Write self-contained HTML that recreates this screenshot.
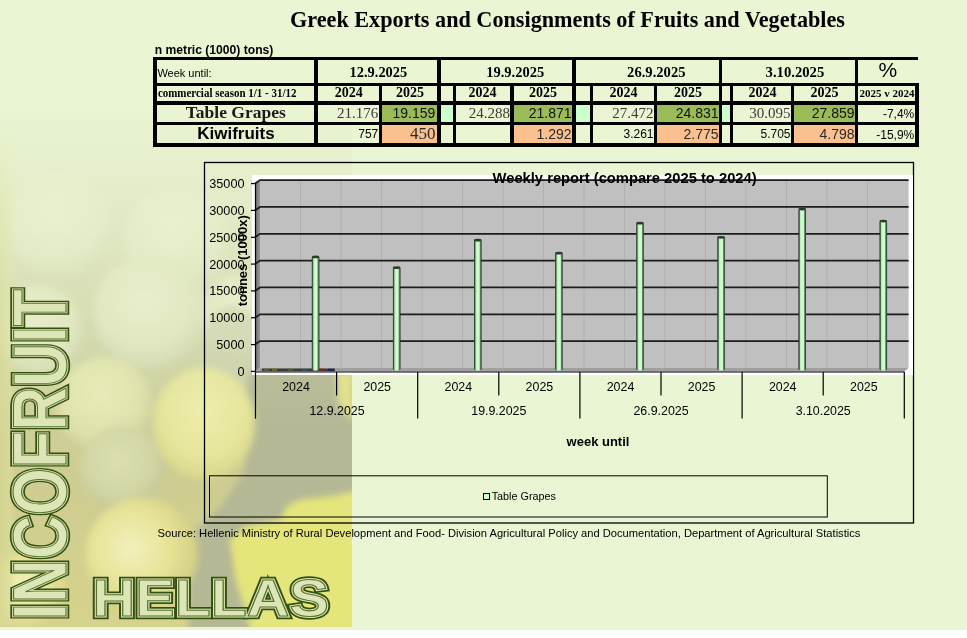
<!DOCTYPE html>
<html><head><meta charset="utf-8"><title>Greek Exports and Consignments of Fruits and Vegetables</title>
<style>
html,body{margin:0;padding:0;background:#fff;}
body{width:967px;height:638px;position:relative;overflow:hidden;}
#bg{position:absolute;left:0;top:0;width:967px;height:630px;background:#EAF5D3;}
svg{position:absolute;left:0;top:0;}
.sans{font-family:"Liberation Sans",Arial,sans-serif;}
.serif{font-family:"Liberation Serif","Times New Roman",serif;}
</style></head><body>
<div id="bg"></div>
<!-- PHOTO -->
<svg id="photo" width="360" height="630" viewBox="0 0 360 630">
  <defs>
    <filter id="b3" x="-20%" y="-20%" width="140%" height="140%"><feGaussianBlur stdDeviation="3"/></filter>
    <filter id="b12" x="-50%" y="-50%" width="200%" height="200%"><feGaussianBlur stdDeviation="12"/></filter>
    <linearGradient id="base" x1="0" y1="0" x2="0" y2="1">
      <stop offset="0" stop-color="#E6EDCB"/>
      <stop offset="0.35" stop-color="#D6DCB6"/>
      <stop offset="0.55" stop-color="#D0D4A6"/>
      <stop offset="0.75" stop-color="#CDCC92"/>
      <stop offset="1" stop-color="#D6D38C"/>
    </linearGradient>
    <linearGradient id="fade" x1="0" y1="0" x2="0" y2="1">
      <stop offset="0" stop-color="#fff" stop-opacity="0"/>
      <stop offset="0.17" stop-color="#fff" stop-opacity="0"/>
      <stop offset="0.30" stop-color="#fff" stop-opacity="0.35"/>
      <stop offset="0.45" stop-color="#fff" stop-opacity="0.7"/>
      <stop offset="0.58" stop-color="#fff" stop-opacity="0.92"/>
      <stop offset="0.68" stop-color="#fff" stop-opacity="1"/>
    </linearGradient>
    <linearGradient id="lstrip" x1="0" y1="0" x2="1" y2="0">
      <stop offset="0" stop-color="#D6D792" stop-opacity="0.85"/>
      <stop offset="0.6" stop-color="#DADC9C" stop-opacity="0.7"/>
      <stop offset="1" stop-color="#DADC9C" stop-opacity="0"/>
    </linearGradient>
    <radialGradient id="gl" cx="0.45" cy="0.4" r="0.6">
      <stop offset="0" stop-color="#E6EBC8"/>
      <stop offset="0.7" stop-color="#DEE4BC"/>
      <stop offset="1" stop-color="#D2D8B0"/>
    </radialGradient>
    <radialGradient id="gd" cx="0.45" cy="0.4" r="0.6">
      <stop offset="0" stop-color="#DCDFB0"/>
      <stop offset="0.7" stop-color="#D2D6A4"/>
      <stop offset="1" stop-color="#C4C898"/>
    </radialGradient>
    <radialGradient id="gm" cx="0.45" cy="0.4" r="0.6">
      <stop offset="0" stop-color="#E8EAB6"/>
      <stop offset="0.7" stop-color="#DEE1AA"/>
      <stop offset="1" stop-color="#CED19C"/>
    </radialGradient>
    <radialGradient id="gy" cx="0.4" cy="0.45" r="0.6">
      <stop offset="0" stop-color="#F2F0BC"/>
      <stop offset="0.6" stop-color="#E6E396"/>
      <stop offset="1" stop-color="#D2CF86"/>
    </radialGradient>
    <radialGradient id="gc" cx="0.5" cy="0.4" r="0.6">
      <stop offset="0" stop-color="#EEEEAC"/>
      <stop offset="0.7" stop-color="#E4E49A"/>
      <stop offset="1" stop-color="#D6D68C"/>
    </radialGradient>
    <mask id="m"><rect x="0" y="0" width="360" height="630" fill="url(#fade)"/></mask>
    <clipPath id="c"><rect x="0" y="0" width="352" height="627"/></clipPath>
  </defs>
  <g clip-path="url(#c)">
    <g mask="url(#m)">
      <rect x="0" y="0" width="353" height="628" fill="url(#base)"/>
      <g filter="url(#b3)">
        <path d="M248,360 L360,360 L360,420 L352,420 L345,412 L337,400 L337,380 L360,376 L360,490 L335,496 L300,500 L288,506 L280,520 L246,526 L230,540 L236,580 L250,625 L252,640 L188,640 L190,560 L196,530 L222,505 L245,470 Z" fill="#B5B894"/>
        <path d="M337,372 L353,372 L353,420 L345,414 L338,400 Z" fill="#E2E08A"/>
        <path d="M300,500 L335,496 L360,490 L360,640 L252,640 L250,625 L236,580 L230,540 L246,526 L280,520 L288,506 Z" fill="#E4E57A"/>
        <circle cx="60" cy="225" r="55" fill="url(#gl)"/>
        <circle cx="178" cy="240" r="55" fill="url(#gl)"/>
        <circle cx="150" cy="312" r="56" fill="url(#gl)"/>
        <circle cx="38" cy="330" r="45" fill="url(#gl)"/>
        <circle cx="240" cy="315" r="40" fill="url(#gl)"/>
        <ellipse cx="232" cy="345" rx="28" ry="40" fill="#CDD2AE" opacity="0.8"/>
        <circle cx="105" cy="405" r="48" fill="url(#gm)"/>
        <circle cx="122" cy="468" r="42" fill="url(#gd)"/>
        <ellipse cx="204" cy="424" rx="51" ry="56" fill="url(#gc)"/>
        
        <circle cx="142" cy="554" r="56" fill="url(#gy)"/>
        <circle cx="30" cy="590" r="40" fill="url(#gy)"/>
      </g>
      <rect x="0" y="0" width="16" height="628" fill="url(#lstrip)"/>
    </g>
  </g>
  <g font-family="Liberation Sans, Arial, sans-serif" font-weight="bold" stroke-linejoin="miter">
    <g fill="none" stroke="#34500F" stroke-width="6.5">
      <text transform="translate(66,620) rotate(-90)" font-size="76" textLength="331" lengthAdjust="spacingAndGlyphs">INCOFRUIT</text>
      <text x="92.5" y="616" font-size="52.5" textLength="236.5" lengthAdjust="spacingAndGlyphs">HELLAS</text>
    </g>
    <g fill="#DDE6B6" stroke="#DDE6B6" stroke-width="3">
      <text transform="translate(66,620) rotate(-90)" font-size="76" textLength="331" lengthAdjust="spacingAndGlyphs">INCOFRUIT</text>
      <text x="92.5" y="616" font-size="52.5" textLength="236.5" lengthAdjust="spacingAndGlyphs">HELLAS</text>
    </g>
    <g fill="none" stroke="#587030" stroke-width="1.1">
      <text transform="translate(66,620) rotate(-90)" font-size="76" textLength="331" lengthAdjust="spacingAndGlyphs">INCOFRUIT</text>
      <text x="92.5" y="616" font-size="52.5" textLength="236.5" lengthAdjust="spacingAndGlyphs">HELLAS</text>
    </g>
  </g>
</svg>

<!-- MAIN -->
<svg id="main" width="967" height="638" viewBox="0 0 967 638">
  <!-- Title -->
  <text x="290" y="27" class="serif" font-weight="bold" font-size="22.5" textLength="555" lengthAdjust="spacingAndGlyphs" fill="#000">Greek Exports and Consignments of Fruits and Vegetables</text>
  <text x="154.8" y="53.6" class="sans" font-weight="bold" font-size="12" textLength="118.6" lengthAdjust="spacingAndGlyphs" fill="#000">n metric (1000) tons)</text>

  <!-- TABLE cell fills -->
  <rect x="382" y="105" width="55" height="17" fill="#9BBB59"/>
  <rect x="514" y="105" width="58" height="17" fill="#9BBB59"/>
  <rect x="657" y="105" width="62" height="17" fill="#9BBB59"/>
  <rect x="794" y="105" width="61" height="17" fill="#9BBB59"/>
  <rect x="382" y="125" width="55" height="18" fill="#FAC090"/>
  <rect x="514" y="125" width="58" height="18" fill="#FAC090"/>
  <rect x="657" y="125" width="62" height="18" fill="#FAC090"/>
  <rect x="794" y="125" width="61" height="18" fill="#FAC090"/>
  <rect x="441" y="105" width="12" height="17" fill="#CCFFCC"/>
  <rect x="576" y="105" width="14" height="17" fill="#CCFFCC"/>
  <rect x="722" y="105" width="8" height="17" fill="#CCFFCC"/>

  <!-- TABLE borders -->
  <g fill="#000">
    <rect x="153" y="57" width="765" height="3"/>
    <rect x="153" y="83" width="766" height="3"/>
    <rect x="153" y="101" width="766" height="4"/>
    <rect x="153" y="122" width="766" height="3"/>
    <rect x="153" y="143" width="766" height="4"/>
    <rect x="153" y="57" width="4" height="90"/>
    <rect x="314" y="57" width="4" height="90"/>
    <rect x="379" y="83" width="3" height="64"/>
    <rect x="437" y="57" width="4" height="90"/>
    <rect x="453" y="83" width="3" height="64"/>
    <rect x="510" y="83" width="4" height="64"/>
    <rect x="572" y="57" width="4" height="90"/>
    <rect x="590" y="83" width="3" height="64"/>
    <rect x="654" y="83" width="3" height="64"/>
    <rect x="719" y="57" width="3" height="90"/>
    <rect x="730" y="83" width="3" height="64"/>
    <rect x="791" y="83" width="3" height="64"/>
    <rect x="855" y="57" width="3" height="90"/>
    <rect x="915" y="83" width="4" height="64"/>
  </g>

  <!-- TABLE text -->
  <g class="sans" fill="#000">
    <text x="157.4" y="77" font-size="11">Week until:</text>
    <text x="887.8" y="76.7" font-size="21" text-anchor="middle">%</text>
  </g>
  <g class="serif" font-weight="bold" fill="#000" text-anchor="middle">
    <text x="378.4" y="76.8" font-size="14.8" textLength="57.6" lengthAdjust="spacingAndGlyphs">12.9.2025</text>
    <text x="515.2" y="76.8" font-size="14.8" textLength="57.9" lengthAdjust="spacingAndGlyphs">19.9.2025</text>
    <text x="656.3" y="76.8" font-size="14.8" textLength="58.4" lengthAdjust="spacingAndGlyphs">26.9.2025</text>
    <text x="794.9" y="76.8" font-size="14.8" textLength="58.7" lengthAdjust="spacingAndGlyphs">3.10.2025</text>
    <text x="348.7" y="97" font-size="14">2024</text>
    <text x="410" y="97" font-size="14">2025</text>
    <text x="482.5" y="97" font-size="14">2024</text>
    <text x="543" y="97" font-size="14">2025</text>
    <text x="623.5" y="97" font-size="14">2024</text>
    <text x="688" y="97" font-size="14">2025</text>
    <text x="762.5" y="97" font-size="14">2024</text>
    <text x="824.5" y="97" font-size="14">2025</text>
    <text x="887" y="97" font-size="11" textLength="55" lengthAdjust="spacingAndGlyphs">2025 v 2024</text>
    <text x="235.8" y="117.8" font-size="17.5" fill="#1a1a1a">Table Grapes</text>
  </g>
  <text x="157.9" y="97" class="serif" font-weight="bold" font-size="11.8" textLength="138.5" lengthAdjust="spacingAndGlyphs" fill="#000">commercial season 1/1 - 31/12</text>
  <text x="236" y="138.5" class="sans" font-weight="bold" font-size="17" text-anchor="middle" fill="#000">Kiwifruits</text>
  <!-- numbers row 3 -->
  <g text-anchor="end">
    <g class="serif" font-size="15" fill="#3a3a3a">
      <text x="378.3" y="118">21.176</text>
      <text x="510" y="118">24.288</text>
      <text x="653.5" y="118">27.472</text>
      <text x="790.5" y="118">30.095</text>
    </g>
    <g class="sans" font-size="14" fill="#111">
      <text x="435.3" y="117.7">19.159</text>
      <text x="571.5" y="117.7">21.871</text>
      <text x="718.5" y="117.7">24.831</text>
      <text x="854.5" y="117.7">27.859</text>
    </g>
    <g class="sans" font-size="12" fill="#000">
      <text x="378.3" y="138.3">757</text>
      <text x="653.5" y="138.3">3.261</text>
      <text x="790.5" y="138.3">5.705</text>
      <text x="914.3" y="117.7">-7,4%</text>
      <text x="914.3" y="138.6">-15,9%</text>
    </g>
    <text x="435.5" y="138.8" class="serif" font-size="17" fill="#2a2a2a">450</text>
    <g class="sans" font-size="14" fill="#2a2a2a">
      <text x="571.5" y="138.6">1.292</text>
      <text x="718.5" y="138.6">2.775</text>
      <text x="854.5" y="138.6">4.798</text>
    </g>
  </g>

  <!-- CHART -->
  <rect x="204.5" y="162.5" width="709" height="360.5" fill="none" stroke="#000" stroke-width="1.3"/>
  <rect x="252" y="175" width="661" height="200" fill="#fff"/>
  <!-- back wall -->
  <rect x="260" y="180" width="648.6" height="187.8" fill="#C0C0C0"/>
  <!-- side wall -->
  <defs><linearGradient id="sw" x1="0" y1="0" x2="1" y2="0"><stop offset="0" stop-color="#6A6A6A"/><stop offset="1" stop-color="#9A9A9A"/></linearGradient></defs>
  <polygon points="255,183.6 260,180 260,367.8 255,371.4" fill="url(#sw)"/>
  <!-- floor -->
  <polygon points="255,371.4 260,367.8 908.6,367.8 904.4,371.4" fill="#A0A0A0"/>
  <!-- zero series specks -->
  <g>
    <rect x="262" y="368.6" width="73" height="2.4" fill="#3a3a30"/>
    <rect x="264" y="368.8" width="5" height="2" fill="#6b5a2a"/>
    <rect x="272" y="368.8" width="5" height="2" fill="#7a6a20"/>
    <rect x="288" y="368.8" width="5" height="2" fill="#4a5a2a"/>
    <rect x="302" y="368.8" width="5" height="2" fill="#2a5a5a"/>
    <rect x="312" y="368.8" width="5" height="2" fill="#5a3a5a"/>
    <rect x="320" y="368.8" width="5" height="2" fill="#8a1a2a"/>
    <rect x="328" y="368.8" width="6" height="2" fill="#1a1a7a"/>
  </g>
  <!-- vertical gridlines -->
  <g stroke="#B0B0B0" stroke-width="1">
    <line x1="300.5" y1="180" x2="300.5" y2="367.8"/><line x1="341" y1="180" x2="341" y2="367.8"/>
    <line x1="381.5" y1="180" x2="381.5" y2="367.8"/><line x1="422" y1="180" x2="422" y2="367.8"/>
    <line x1="462.5" y1="180" x2="462.5" y2="367.8"/><line x1="503" y1="180" x2="503" y2="367.8"/>
    <line x1="543.5" y1="180" x2="543.5" y2="367.8"/><line x1="584" y1="180" x2="584" y2="367.8"/>
    <line x1="624.5" y1="180" x2="624.5" y2="367.8"/><line x1="665" y1="180" x2="665" y2="367.8"/>
    <line x1="705.5" y1="180" x2="705.5" y2="367.8"/><line x1="746" y1="180" x2="746" y2="367.8"/>
    <line x1="786.5" y1="180" x2="786.5" y2="367.8"/><line x1="827" y1="180" x2="827" y2="367.8"/>
    <line x1="867.5" y1="180" x2="867.5" y2="367.8"/>
  </g>
  <!-- horizontal gridlines -->
  <g stroke="#1c1c1c" stroke-width="1.8" fill="none">
    <polyline points="255,183.6 260,180.1 908.6,180.1"/>
    <polyline points="255,210.4 260,206.9 908.6,206.9"/>
    <polyline points="255,237.3 260,233.8 908.6,233.8"/>
    <polyline points="255,264.1 260,260.6 908.6,260.6"/>
    <polyline points="255,290.9 260,287.4 908.6,287.4"/>
    <polyline points="255,317.8 260,314.3 908.6,314.3"/>
    <polyline points="255,344.6 260,341.1 908.6,341.1"/>
  </g>
  <!-- axes -->
  <g stroke="#000" stroke-width="1.2">
    <line x1="255.5" y1="183" x2="255.5" y2="372"/>
    <line x1="255" y1="372" x2="904.5" y2="372"/>
    <line x1="251" y1="183.6" x2="255" y2="183.6"/><line x1="251" y1="210.4" x2="255" y2="210.4"/>
    <line x1="251" y1="237.3" x2="255" y2="237.3"/><line x1="251" y1="264.1" x2="255" y2="264.1"/>
    <line x1="251" y1="290.9" x2="255" y2="290.9"/><line x1="251" y1="317.8" x2="255" y2="317.8"/>
    <line x1="251" y1="344.6" x2="255" y2="344.6"/><line x1="251" y1="371.4" x2="255" y2="371.4"/>
    <line x1="255.5" y1="372" x2="255.5" y2="418.6"/>
    <line x1="336.6" y1="372" x2="336.6" y2="395.4"/>
    <line x1="417.7" y1="372" x2="417.7" y2="418.6"/>
    <line x1="498.8" y1="372" x2="498.8" y2="395.4"/>
    <line x1="579.9" y1="372" x2="579.9" y2="418.6"/>
    <line x1="661" y1="372" x2="661" y2="395.4"/>
    <line x1="742.1" y1="372" x2="742.1" y2="418.6"/>
    <line x1="823.2" y1="372" x2="823.2" y2="395.4"/>
    <line x1="904.3" y1="372" x2="904.3" y2="418.6"/>
  </g>
  <!-- bars -->
  <defs><linearGradient id="barg" x1="0" y1="0" x2="1" y2="0">
<stop offset="0" stop-color="#1E2A1E"/><stop offset="0.14" stop-color="#4E6A4E"/><stop offset="0.25" stop-color="#B4EEB4"/><stop offset="0.5" stop-color="#D4FFD4"/><stop offset="0.7" stop-color="#C4F8C4"/><stop offset="0.8" stop-color="#6E906E"/><stop offset="1" stop-color="#1E2A1E"/>
</linearGradient></defs>
  <g>
    <rect x="311.8" y="255.7" width="7.6" height="114.9" rx="2" fill="url(#barg)"/>
    <ellipse cx="315.6" cy="256.9" rx="3.6" ry="1.4" fill="#2A3A2A"/>
    <rect x="392.9" y="266.5" width="7.6" height="104.1" rx="2" fill="url(#barg)"/>
    <ellipse cx="396.7" cy="267.7" rx="3.6" ry="1.4" fill="#2A3A2A"/>
    <rect x="474.0" y="239.0" width="7.6" height="131.6" rx="2" fill="url(#barg)"/>
    <ellipse cx="477.8" cy="240.2" rx="3.6" ry="1.4" fill="#2A3A2A"/>
    <rect x="555.1" y="252.0" width="7.6" height="118.6" rx="2" fill="url(#barg)"/>
    <ellipse cx="558.9" cy="253.2" rx="3.6" ry="1.4" fill="#2A3A2A"/>
    <rect x="636.2" y="222.0" width="7.6" height="148.6" rx="2" fill="url(#barg)"/>
    <ellipse cx="640.0" cy="223.2" rx="3.6" ry="1.4" fill="#2A3A2A"/>
    <rect x="717.3" y="236.1" width="7.6" height="134.5" rx="2" fill="url(#barg)"/>
    <ellipse cx="721.1" cy="237.3" rx="3.6" ry="1.4" fill="#2A3A2A"/>
    <rect x="798.4" y="207.9" width="7.6" height="162.7" rx="2" fill="url(#barg)"/>
    <ellipse cx="802.2" cy="209.1" rx="3.6" ry="1.4" fill="#2A3A2A"/>
    <rect x="879.5" y="219.9" width="7.6" height="150.7" rx="2" fill="url(#barg)"/>
    <ellipse cx="883.3" cy="221.1" rx="3.6" ry="1.4" fill="#2A3A2A"/>
  </g>
  <!-- chart text -->
  <text x="492.6" y="182.8" class="sans" font-weight="bold" font-size="14.5" textLength="264" lengthAdjust="spacingAndGlyphs" fill="#000">Weekly report (compare 2025 to 2024)</text>
  <g class="sans" font-size="12.7" fill="#000" text-anchor="end">
    <text x="244.5" y="188">35000</text>
    <text x="244.5" y="214.8">30000</text>
    <text x="244.5" y="241.7">25000</text>
    <text x="244.5" y="268.5">20000</text>
    <text x="244.5" y="295.3">15000</text>
    <text x="244.5" y="322.2">10000</text>
    <text x="244.5" y="349">5000</text>
    <text x="244.5" y="375.8">0</text>
  </g>
  <text transform="translate(247,306.3) rotate(-90)" class="sans" font-weight="bold" font-size="13" fill="#000">tonnes (1000x)</text>
  <g class="sans" font-size="12.4" fill="#000" text-anchor="middle">
    <text x="296" y="390.8">2024</text><text x="377.2" y="390.8">2025</text>
    <text x="458.3" y="390.8">2024</text><text x="539.4" y="390.8">2025</text>
    <text x="620.5" y="390.8">2024</text><text x="701.6" y="390.8">2025</text>
    <text x="782.7" y="390.8">2024</text><text x="863.8" y="390.8">2025</text>
    <text x="337" y="414.6">12.9.2025</text>
    <text x="498.8" y="414.6">19.9.2025</text>
    <text x="661" y="414.6">26.9.2025</text>
    <text x="823.2" y="414.6">3.10.2025</text>
  </g>
  <text x="598" y="445.5" class="sans" font-weight="bold" font-size="13" text-anchor="middle" fill="#000">week until</text>
  <!-- legend -->
  <rect x="209.5" y="475.8" width="617.8" height="41.2" fill="none" stroke="#000" stroke-width="1"/>
  <rect x="483.5" y="493.5" width="6" height="6" fill="#CCFFCC" stroke="#000" stroke-width="1"/>
  <text x="491.7" y="499.6" class="sans" font-size="10.8" fill="#000">Table Grapes</text>
  <!-- source -->
  <text x="157.6" y="537.4" class="sans" font-size="11.15" fill="#000">Source: Hellenic Ministry of Rural Development and Food- Division Agricultural Policy and Documentation, Department of Agricultural Statistics</text>
</svg>
</body></html>
